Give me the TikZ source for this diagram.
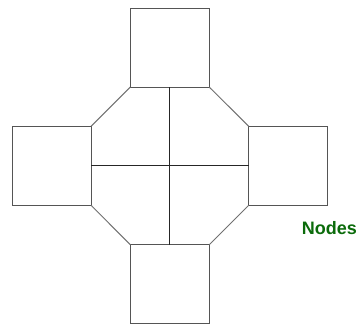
\documentclass[tikz,border=0pt]{standalone}
\usepackage{fontspec}
\setmainfont{Liberation Sans}
\definecolor{sqgray}{HTML}{555555}
\definecolor{diaggray}{HTML}{707070}
\definecolor{labelgreen}{HTML}{0B6B0B}
\begin{document}
\begin{tikzpicture}[x=1pt,y=-1pt,
  sq/.style={draw=sqgray,line width=1.1pt,minimum size=79pt,inner sep=0pt,outer sep=0pt},
  diag/.style={draw=diaggray,line width=1pt},
  cross/.style={draw=black!85,line width=1pt}]
\useasboundingbox (0,0) rectangle (360,327);
\node[sq] (top) at (169.8,47.6) {};
\node[sq] (left) at (51.6,165.8) {};
\node[sq] (right) at (288.2,165.8) {};
\node[sq] (bottom) at (169.8,284.2) {};
\draw[diag] (top.south west) -- (left.north east);
\draw[diag] (top.south east) -- (right.north west);
\draw[diag] (left.south east) -- (bottom.north west);
\draw[diag] (right.south west) -- (bottom.north east);
\draw[cross] (top.south) -- (bottom.north);
\draw[cross] (left.east) -- (right.west);
\node[text=labelgreen,font=\fontsize{18}{20}\selectfont\bfseries,inner sep=0pt] (lbl) at (329.5,228.5) {Nodes};
\end{tikzpicture}
\end{document}
